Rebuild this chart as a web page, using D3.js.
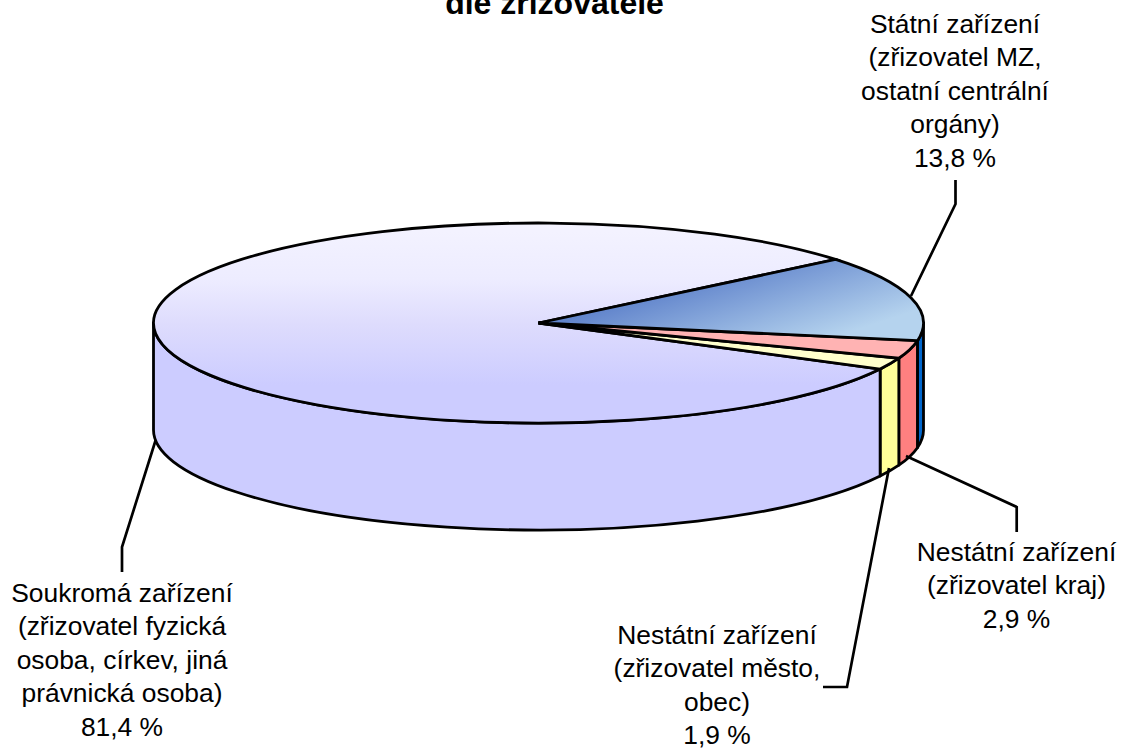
<!DOCTYPE html>
<html><head><meta charset="utf-8">
<script src="https://cdn.jsdelivr.net/npm/d3@7"></script>
<style>html,body{margin:0;padding:0;background:#fff}svg{display:block}text{font-family:"Liberation Sans",Arial,sans-serif;fill:#000}</style>
</head><body><div id="c"></div>
<script>
const categories=["Státní zařízení (zřizovatel MZ, ostatní centrální orgány)","Nestátní zařízení (zřizovatel kraj)","Nestátní zařízení (zřizovatel město, obec)","Soukromá zařízení (zřizovatel fyzická osoba, církev, jiná právnická osoba)"];
const values=[13.8,2.9,1.9,81.4];
const valueLabels=["13,8 %","2,9 %","1,9 %","81,4 %"];
const labelLines=[["Státní zařízení","(zřizovatel MZ,","ostatní centrální","orgány)"],["Nestátní zařízení","(zřizovatel kraj)"],["Nestátní zařízení","(zřizovatel město,","obec)"],["Soukromá zařízení","(zřizovatel fyzická","osoba, církev, jiná","právnická osoba)"]];
const sideColors=["#0066CC","#FF8080","#FFFF99","#CCCCFF"];
const topColors=["url(#gBlue)","#FFB3B3","#FFFFCC","url(#gLav)"];
const labelAnchors=[[955,33],[1016.5,561],[717,644],[122,602]];
const leaders=[[[911,296],[955.5,204],[955.5,180]],[[906,456],[1016.7,507],[1016.7,532]],[[889,468],[847,687],[823,687]],[[155.7,440],[122,547],[122,572]]];
const W=1129,H=749,cx=538.5,cy=323,rx=385,ry=100,depth=107,line=33.4;
const svg=d3.select("#c").append("svg").attr("width",W).attr("height",H);
const defs=svg.append("defs");
const g1=defs.append("linearGradient").attr("id","gLav").attr("gradientUnits","userSpaceOnUse").attr("x1",0).attr("x2",0).attr("y1",223).attr("y2",385);
[[0,"#F4F3FF"],[.35,"#EDECFF"],[.62,"#DEDCFD"],[1,"#CCCCFF"]].forEach(s=>g1.append("stop").attr("offset",s[0]).attr("stop-color",s[1]));
const g2=defs.append("linearGradient").attr("id","gBlue").attr("gradientUnits","userSpaceOnUse").attr("x1",770).attr("y1",255).attr("x2",800).attr("y2",348);
[[0,"#6285CC"],[1,"#B5D3EE"]].forEach(s=>g2.append("stop").attr("offset",s[0]).attr("stop-color",s[1]));
const pie=d3.pie().sort(null).value(d=>d).startAngle(50.5*Math.PI/180).endAngle((50.5+360)*Math.PI/180);
const arcs=pie(values);
const px=a=>cx+rx*Math.sin(a),py=a=>cy-ry*Math.cos(a);
const sw=2.8;
function arcTo(p,a0,a1,dy,rev){const A=Math.abs(a1-a0)>Math.PI?1:0;p.push(`A${rx},${ry} 0 ${A} ${rev?0:1} ${px(a1)},${py(a1)+dy}`);}
const lo=Math.PI/2,hi=3*Math.PI/2;
[0,1,2,3].forEach(i=>{const d=arcs[i];const a0=Math.max(d.startAngle,lo),a1=Math.min(d.endAngle,hi);
 if(a1<=a0)return;
 const p=[`M${px(a0)},${py(a0)}`];arcTo(p,a0,a1,0,false);p.push(`L${px(a1)},${py(a1)+depth}`);arcTo(p,a1,a0,depth,true);p.push("Z");
 svg.append("path").attr("d",p.join("")).attr("fill",sideColors[i]).attr("stroke","#000").attr("stroke-width",sw).attr("stroke-linejoin","round");
});
[3,2,1,0].forEach(i=>{const d=arcs[i];const p=[`M${cx},${cy}L${px(d.startAngle)},${py(d.startAngle)}`];arcTo(p,d.startAngle,d.endAngle,0,false);p.push("Z");
 svg.append("path").attr("d",p.join("")).attr("fill",topColors[i]).attr("stroke","#000").attr("stroke-width",sw).attr("stroke-linejoin","miter");
});
const ln=d3.line();
leaders.forEach(l=>svg.append("path").attr("d",ln(l)).attr("fill","none").attr("stroke","#000").attr("stroke-width",2.7));
labelLines.forEach((ls,i)=>{const t=svg.append("text").attr("text-anchor","middle").attr("font-size",26.4);
 ls.concat([valueLabels[i]]).forEach((s,j)=>t.append("tspan").attr("x",labelAnchors[i][0]).attr("y",labelAnchors[i][1]+j*line).text(s));});
svg.append("text").attr("x",554.5).attr("y",14).attr("text-anchor","middle").attr("font-size",32).attr("font-weight","bold").text("dle zřizovatele");
</script></body></html>
